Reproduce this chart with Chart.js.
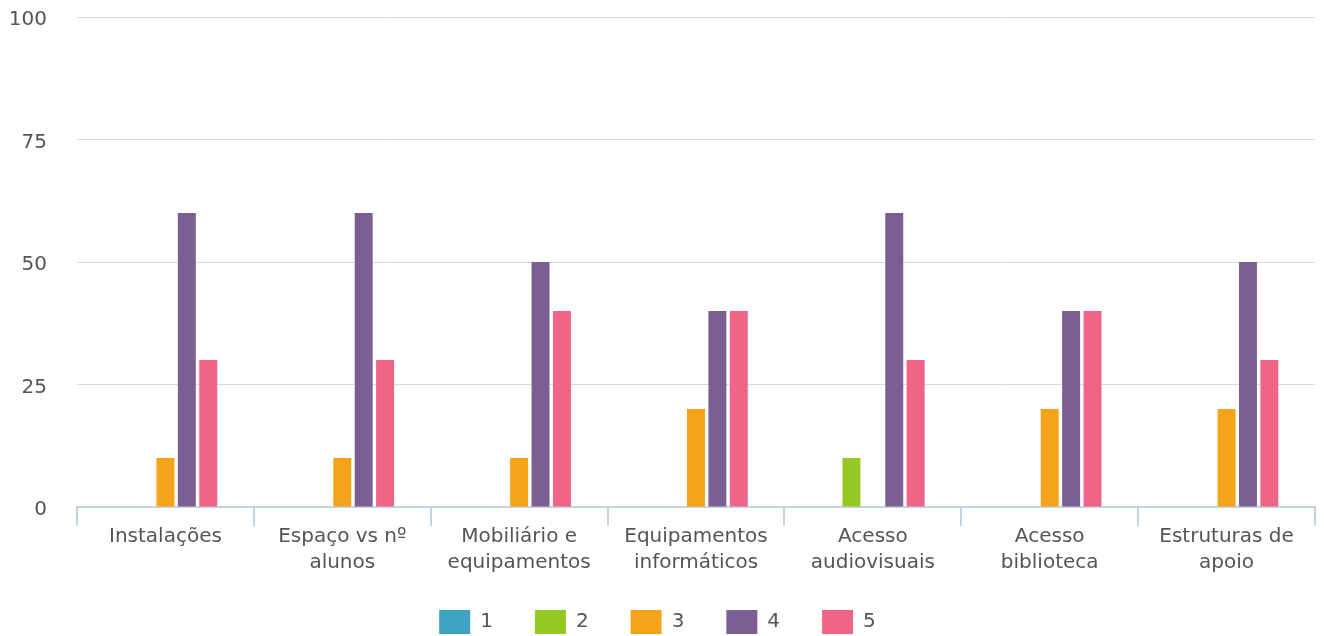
<!DOCTYPE html>
<html>
<head>
<meta charset="utf-8">
<script src="https://cdn.jsdelivr.net/npm/chart.js@4"></script>
<style>
  html, body { margin: 0; padding: 0; background: #fff; }
  #wrap { width: 1324px; height: 636px; }
</style>
</head>
<body>
<div id="wrap"><canvas id="chart"></canvas></div>
<script>
const categories = [
  'Instalações',
  ['Espaço vs nº', 'alunos'],
  ['Mobiliário e', 'equipamentos'],
  ['Equipamentos', 'informáticos'],
  ['Acesso', 'audiovisuais'],
  ['Acesso', 'biblioteca'],
  ['Estruturas de', 'apoio']
];
const seriesNames = ['1', '2', '3', '4', '5'];
const s1 = [0, 0, 0, 0, 0, 0, 0];
const s2 = [0, 0, 0, 0, 10, 0, 0];
const s3 = [10, 10, 10, 20, 0, 20, 20];
const s4 = [60, 60, 50, 40, 60, 40, 50];
const s5 = [30, 30, 40, 40, 30, 40, 30];
const yTicks = [0, 25, 50, 75, 100];

const COLORS = ['#3ea2c2', '#96c823', '#f5a31a', '#7c5f92', '#f06487'];
const FONT = "'DejaVu Sans', Verdana, sans-serif";

new Chart(document.getElementById('chart'), {
  type: 'bar',
  data: {
    labels: categories,
    datasets: [s1, s2, s3, s4, s5].map((d, i) => ({
      label: seriesNames[i],
      data: d,
      backgroundColor: COLORS[i],
      borderWidth: 0,
      categoryPercentage: 0.605,
      barPercentage: 0.84,
    })),
  },
  options: {
    responsive: true,
    maintainAspectRatio: false,
    animation: false,
    layout: { padding: { left: 0, right: 9, top: 17, bottom: -8 } },
    plugins: {
      legend: {
        position: 'bottom',
        labels: {
          font: { size: 20, family: FONT },
          color: '#555',
          boxWidth: 31,
          boxHeight: 24,
          padding: 42,
        },
      },
      tooltip: { enabled: false },
    },
    scales: {
      x: {
        grid: {
          drawOnChartArea: false,
          drawTicks: true,
          tickLength: 19,
          color: '#c3d3e4',
          lineWidth: 2,
          offset: true,
        },
        border: { color: '#c3d3e4', width: 2 },
        ticks: {
          font: { size: 20, family: FONT, lineHeight: 1.3 },
          color: '#555',
          maxRotation: 0,
          autoSkip: false,
          padding: -2,
        },
        afterFit: axis => {
          axis.height -= 6;
          // let the labels run past the shortened axis box
          axis._computeLabelArea = () => undefined;
        },
      },
      y: {
        min: 0,
        max: 100,
        afterBuildTicks: axis => { axis.ticks = yTicks.map(v => ({ value: v })); },
        afterFit: axis => {
          axis.width = 77;
          axis.paddingTop = 0;
          axis.paddingBottom = 0;
        },
        grid: { color: '#d9d9d9', lineWidth: 1, drawTicks: false },
        border: { display: false },
        ticks: {
          font: { size: 20, family: FONT },
          color: '#555',
          padding: 30,
          labelOffset: 3,
        },
      },
    },
  },
});
</script>
</body>
</html>
